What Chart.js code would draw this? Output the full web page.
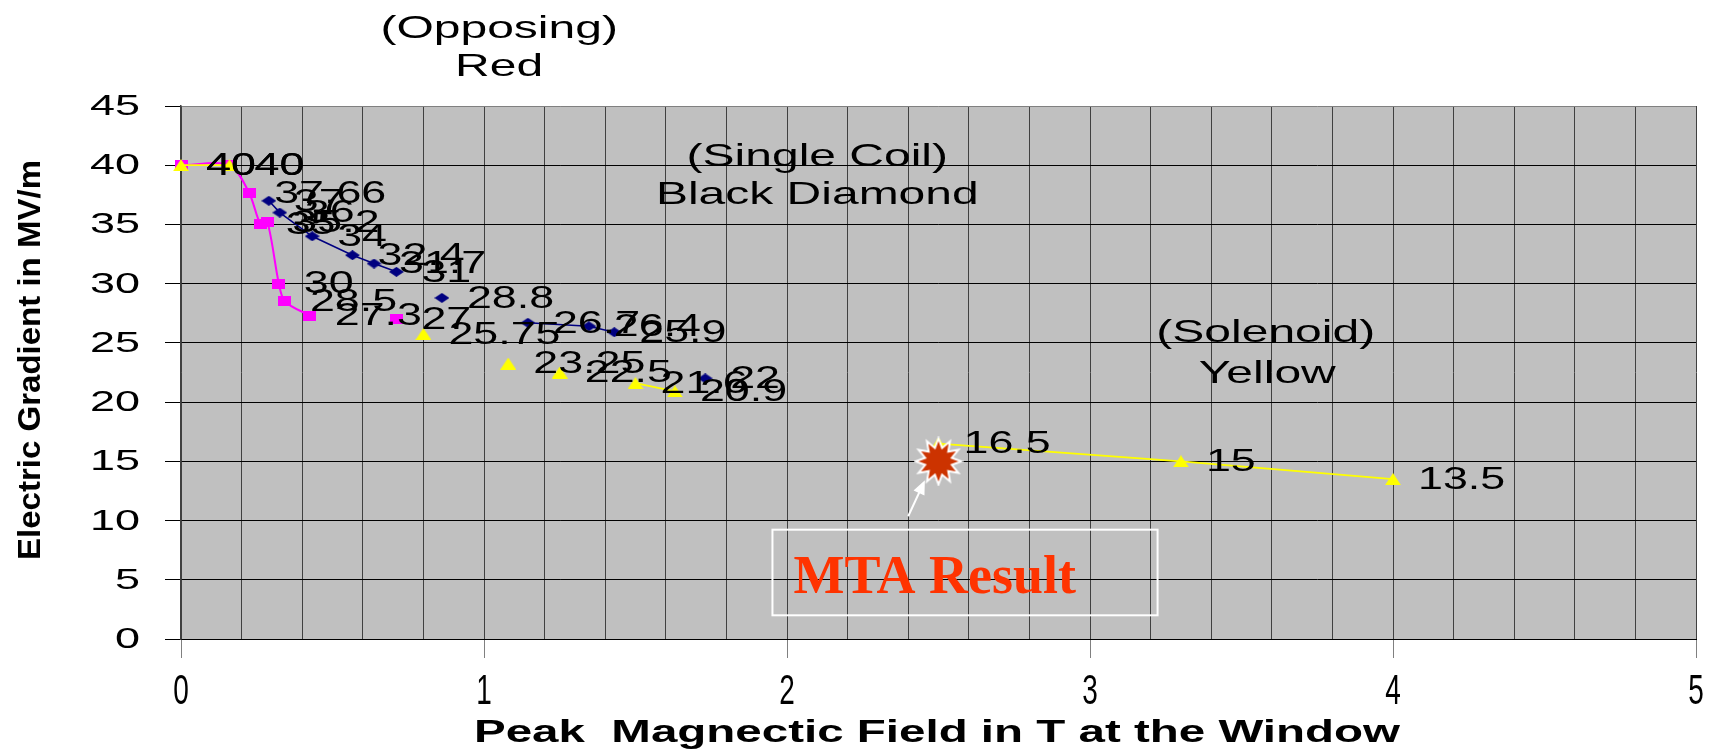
<!DOCTYPE html>
<html>
<head>
<meta charset="utf-8">
<title>Electric Gradient vs Peak Magnetic Field</title>
<script src="https://cdn.jsdelivr.net/npm/chart.js@4.4.1/dist/chart.umd.min.js"></script>
<style>
  html, body { margin: 0; padding: 0; background: #fff; }
  canvas { display: block; }
</style>
</head>
<body>
<canvas id="chart" width="1719" height="752"></canvas>
<script>
'use strict';

// ── Data (null = break in the line) ──
const opposingX = [0, 0.16, 0.225, 0.263, 0.285, 0.323, 0.343, 0.425, null, 0.711];
const opposingY = [40, 40, 37.66, 35, 35.2, 30, 28.5, 27.3, null, 27];

const singleCoilX = [0.29, 0.326, 0.433, 0.566, 0.637, 0.711, null, 0.861, null, 1.145, 1.346, 1.43, null, 1.73];
const singleCoilY = [37, 36, 34, 32.4, 31.7, 31, null, 28.8, null, 26.7, 26.4, 25.9, null, 22];

const solenoidX = [0, 0.16, null, 0.8, null, 1.08, null, 1.25, null, 1.5, 1.63, null, 2.5, 3.3, 4];
const solenoidY = [40, 40, null, 25.75, null, 23.25, null, 22.5, null, 21.6, 20.9, null, 16.5, 15, 13.5];

const mtaX = [2.5];
const mtaY = [15];

const xTickLabels = [0, 1, 2, 3, 4, 5];
const yTickLabels = [0, 5, 10, 15, 20, 25, 30, 35, 40, 45];

const xTitle = 'Peak  Magnectic Field in T at the Window';
const yTitle = 'Electric Gradient in MV/m';

// ── helpers ────────────────────────────────────────────────
const FONT = '"Liberation Sans", Arial, sans-serif';

function points(xs, ys) {
  return xs.map((x, i) => ({ x, y: ys[i] }));
}

// text stretched horizontally, like the old Excel export
function stretchText(ctx, text, x, y, sx, align = 'left') {
  ctx.save();
  ctx.translate(x, y);
  ctx.scale(sx, 1);
  ctx.textAlign = align;
  ctx.fillText(text, 0, 0);
  ctx.restore();
}

// the markers are squashed too, so draw them on small canvases
function makeMarker(shape, w, h, color) {
  const c = document.createElement('canvas');
  c.width = w;
  c.height = h;
  const g = c.getContext('2d');
  g.fillStyle = color;
  g.beginPath();
  if (shape === 'triangle') {
    g.moveTo(w / 2, 0); g.lineTo(w, h); g.lineTo(0, h);
  } else if (shape === 'diamond') {
    g.moveTo(w / 2, 0); g.lineTo(w, h / 2); g.lineTo(w / 2, h); g.lineTo(0, h / 2);
  } else {
    g.rect(0, 0, w, h);
  }
  g.closePath();
  g.fill();
  return c;
}

function makeStarburst(size, spikes) {
  const c = document.createElement('canvas');
  c.width = c.height = size;
  const g = c.getContext('2d');
  const mid = size / 2, outer = size / 2 - 2, inner = outer * 0.6;
  g.beginPath();
  for (let i = 0; i < spikes * 2; i++) {
    const r = i % 2 ? inner : outer;
    const a = (Math.PI * i) / spikes - Math.PI / 2;
    g.lineTo(mid + r * Math.cos(a), mid + r * Math.sin(a));
  }
  g.closePath();
  g.fillStyle = '#cc3300';
  g.fill();
  g.lineWidth = 2;
  g.strokeStyle = '#ffffff';
  g.stroke();
  return c;
}

// ── plugins ────────────────────────────────────────────────
const plotBackground = {
  id: 'plotBackground',
  beforeDraw(chart) {
    const { ctx, chartArea: a } = chart;
    ctx.save();
    ctx.fillStyle = '#c0c0c0';
    ctx.fillRect(a.left, a.top, a.right - a.left, a.bottom - a.top);
    ctx.restore();
  }
};

const valueLabels = {
  id: 'valueLabels',
  afterDatasetsDraw(chart) {
    const ctx = chart.ctx;
    ctx.save();
    ctx.fillStyle = '#000';
    ctx.font = '32px ' + FONT;
    ctx.textBaseline = 'middle';
    chart.data.datasets.forEach((ds, i) => {
      if (!ds.valueLabels) return;
      chart.getDatasetMeta(i).data.forEach((pt, j) => {
        const v = ds.data[j].y;
        if (v === null || pt.skip) return;
        stretchText(ctx, String(v), pt.x + 25, pt.y + 1, 1.4);
      });
    });
    ctx.restore();
  }
};

// free text written on the chart, in data units
const notes = [
  { text: '(Opposing)',    x: 1.05,  y: 51.5 },
  { text: 'Red',           x: 1.05,  y: 48.3 },
  { text: '(Single Coil)', x: 2.1,   y: 40.7 },
  { text: 'Black Diamond', x: 2.1,   y: 37.5 },
  { text: '(Solenoid)',    x: 3.58,  y: 25.8 },
  { text: 'Yellow',        x: 3.585, y: 22.4 }
];

const textLayer = {
  id: 'textLayer',
  afterDraw(chart) {
    const { ctx, scales: { x, y } } = chart;
    ctx.save();

    // MTA result box + arrow
    const bx0 = x.getPixelForValue(1.952), bx1 = x.getPixelForValue(3.223);
    const by0 = y.getPixelForValue(9.23),  by1 = y.getPixelForValue(2.0);
    ctx.strokeStyle = '#ffffff';
    ctx.lineWidth = 2;
    ctx.strokeRect(bx0, by0, bx1 - bx0, by1 - by0);
    ctx.fillStyle = '#ff3300';
    ctx.font = 'bold 54px "Liberation Serif", "Times New Roman", serif';
    ctx.textBaseline = 'alphabetic';
    ctx.textAlign = 'left';
    ctx.fillText('MTA Result', bx0 + 21, y.getPixelForValue(3.9));

    const tx = x.getPixelForValue(2.4),  ty = y.getPixelForValue(10.36);
    const hx = x.getPixelForValue(2.455), hy = y.getPixelForValue(13.4);
    const ang = Math.atan2(hy - ty, hx - tx);
    ctx.strokeStyle = '#ffffff';
    ctx.fillStyle = '#ffffff';
    ctx.lineWidth = 2;
    ctx.beginPath();
    ctx.moveTo(tx, ty);
    ctx.lineTo(hx - 10 * Math.cos(ang), hy - 10 * Math.sin(ang));
    ctx.stroke();
    ctx.beginPath();
    ctx.moveTo(hx, hy);
    ctx.lineTo(hx - 14 * Math.cos(ang) + 6 * Math.sin(ang), hy - 14 * Math.sin(ang) - 6 * Math.cos(ang));
    ctx.lineTo(hx - 14 * Math.cos(ang) - 6 * Math.sin(ang), hy - 14 * Math.sin(ang) + 6 * Math.cos(ang));
    ctx.closePath();
    ctx.fill();

    // notes
    ctx.fillStyle = '#000';
    ctx.font = '32px ' + FONT;
    ctx.textBaseline = 'middle';
    notes.forEach(n => {
      stretchText(ctx, n.text, x.getPixelForValue(n.x), y.getPixelForValue(n.y), 1.5, 'center');
    });

    // tick labels
    ctx.font = '29px ' + FONT;
    yTickLabels.forEach(v => {
      stretchText(ctx, String(v), 140, y.getPixelForValue(v) + 1, 1.55, 'right');
    });
    ctx.font = '43px ' + FONT;
    xTickLabels.forEach(v => {
      stretchText(ctx, String(v), x.getPixelForValue(v), 692, 0.65, 'center');
    });

    // axis titles
    ctx.font = 'bold 31px ' + FONT;
    ctx.textBaseline = 'alphabetic';
    let w = ctx.measureText(xTitle).width;
    stretchText(ctx, xTitle, 937, 742, 926 / w, 'center');

    ctx.font = 'bold 32px ' + FONT;
    w = ctx.measureText(yTitle).width;
    ctx.save();
    ctx.translate(40, 360);
    ctx.rotate(-Math.PI / 2);
    stretchText(ctx, yTitle, 0, 0, 400 / w, 'center');
    ctx.restore();

    ctx.restore();
  }
};

// ── chart ──────────────────────────────────────────────────
const isWhole = v => Math.abs(v - Math.round(v)) < 1e-6;

new Chart(document.getElementById('chart').getContext('2d'), {
  type: 'scatter',
  data: {
    datasets: [
      {
        label: 'MTA Result',
        data: points(mtaX, mtaY),
        pointStyle: makeStarburst(50, 12),
        pointRadius: 22,
        showLine: false,
        clip: false,
        order: 0
      },
      {
        label: '(Solenoid) Yellow',
        data: points(solenoidX, solenoidY),
        showLine: true,
        borderColor: '#ffff00',
        borderWidth: 1.8,
        pointStyle: makeMarker('triangle', 16, 12, '#ffff00'),
        pointRadius: 7,
        valueLabels: true,
        clip: false,
        order: 1
      },
      {
        label: '(Opposing) Red',
        data: points(opposingX, opposingY),
        showLine: true,
        tension: 0.3,
        borderColor: '#ff00ff',
        borderWidth: 2,
        pointStyle: makeMarker('rect', 13, 10, '#ff00ff'),
        pointRadius: 7,
        valueLabels: true,
        clip: false,
        order: 2
      },
      {
        label: '(Single Coil) Black Diamond',
        data: points(singleCoilX, singleCoilY),
        showLine: true,
        borderColor: '#000080',
        borderWidth: 1.5,
        pointStyle: makeMarker('diamond', 15, 10, '#000080'),
        pointRadius: 7,
        valueLabels: true,
        clip: false,
        order: 3
      }
    ]
  },
  options: {
    responsive: false,
    animation: false,
    events: [],
    layout: { padding: { top: 106, right: 20, left: 0, bottom: 0 } },
    plugins: {
      legend: { display: false },
      tooltip: { enabled: false }
    },
    scales: {
      x: {
        type: 'linear',
        min: 0,
        max: 5,
        ticks: { stepSize: 0.2, display: false, autoSkip: false },
        grid: {
          color: '#404040',
          lineWidth: 1,
          tickLength: 19,
          tickColor: c => isWhole(c.tick.value) ? '#808080' : 'rgba(0,0,0,0)'
        },
        border: { color: '#000', width: 1 },
        afterFit: s => { s.height = 113; }
      },
      y: {
        min: 0,
        max: 45,
        ticks: { stepSize: 5, display: false },
        grid: {
          color: c => c.tick.value === 45 ? '#808080' : '#000',
          lineWidth: 1,
          tickLength: 16,
          tickColor: '#000'
        },
        border: { color: '#404040', width: 1.5 },
        afterFit: s => { s.width = 181; }
      }
    }
  },
  plugins: [plotBackground, valueLabels, textLayer]
});
</script>
</body>
</html>
